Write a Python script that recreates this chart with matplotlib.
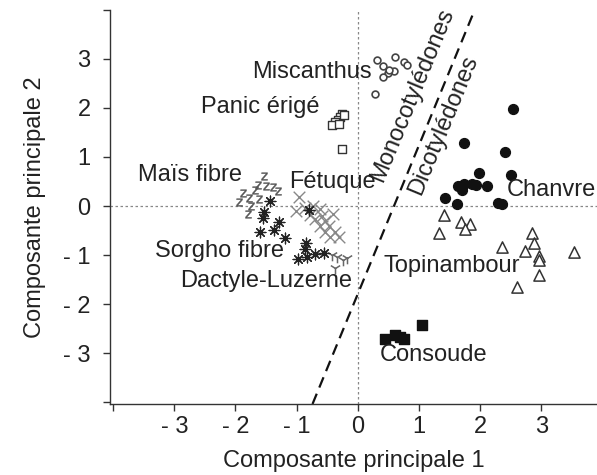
import matplotlib
matplotlib.use("Agg")
import matplotlib.pyplot as plt

plt.rcParams["font.family"] = ["Liberation Sans", "DejaVu Sans"]
plt.rcParams["font.size"] = 17

# ---- data (ACP scores) ----
miscanthus_x = [0.31, 0.60, 0.42, 0.75, 0.80, 0.59, 0.49, 0.42, 0.28, 0.51]
miscanthus_y = [2.98, 3.04, 2.86, 2.94, 2.88, 2.76, 2.71, 2.63, 2.29, 2.78]

panic_x = [-0.26, -0.29, -0.33, -0.38, -0.42, -0.31, -0.23, -0.26]
panic_y = [1.88, 1.82, 1.76, 1.71, 1.65, 1.67, 1.86, 1.16]

chanvre_x = [2.53, 1.73, 2.40, 1.98, 2.50, 1.63, 1.70, 1.73, 1.86, 1.93, 2.11, 1.42, 1.62, 2.29, 2.35]
chanvre_y = [1.98, 1.29, 1.10, 0.67, 0.63, 0.41, 0.33, 0.45, 0.45, 0.43, 0.41, 0.16, 0.04, 0.06, 0.04]

topi_x = [1.41, 1.68, 1.83, 1.75, 1.32, 2.84, 2.88, 2.35, 2.73, 2.96, 2.96, 3.53, 2.96, 2.61]
topi_y = [-0.18, -0.33, -0.37, -0.47, -0.55, -0.55, -0.76, -0.84, -0.92, -1.02, -1.10, -0.94, -1.41, -1.65]

consoude_x = [0.44, 0.60, 0.69, 0.75, 1.05]
consoude_y = [-2.71, -2.63, -2.67, -2.71, -2.43]

mais_x = [-1.54, -1.63, -1.50, -1.39, -1.31, -1.88, -1.68, -1.78, -1.62, -1.94, -1.75, -1.80]
mais_y = [0.61, 0.43, 0.41, 0.39, 0.31, 0.27, 0.33, 0.16, 0.14, 0.08, 0.00, -0.16]

sorgho_x = [-1.44, -1.54, -1.55, -1.29, -1.37, -1.60, -1.19, -0.85, -0.87, -0.98, -0.83, -0.70, -0.56, -0.80]
sorgho_y = [0.10, -0.12, -0.24, -0.33, -0.49, -0.53, -0.65, -0.76, -0.88, -1.08, -1.04, -0.98, -0.96, -0.08]

fetuque_x = [-0.96, -1.01, -0.87, -0.74, -0.62, -0.41, -0.78, -0.59, -0.70, -0.54, -0.62, -0.47, -0.54, -0.38, -0.46, -0.31]
fetuque_y = [0.18, -0.10, -0.04, 0.00, -0.06, -0.16, -0.18, -0.20, -0.27, -0.31, -0.41, -0.41, -0.53, -0.53, -0.63, -0.63]

dactyle_x = [-0.42, -0.34, -0.25, -0.18, -0.38]
dactyle_y = [-1.00, -1.04, -1.10, -1.06, -1.27]

# separation line mono/dicot
sep_x = [-0.74, 1.91]
sep_y = [-4.04, 4.0]

ticks = [-4, -3, -2, -1, 0, 1, 2, 3]
tick_labels = ["", "- 3", "- 2", "- 1", "0", "1", "2", "3"]
yticks = [-4, -3, -2, -1, 0, 1, 2, 3, 4]
ytick_labels = ["", "- 3", "- 2", "- 1", "0", "1", "2", "3", ""]

fig = plt.figure(figsize=(5.97, 4.75), dpi=100)
ax = fig.add_axes([0.1843, 0.1495, 0.8157, 0.8295])

dark = "#222222"

ax.axhline(0, color="#888888", ls=(0, (2, 2)), lw=0.9, zorder=1)
ax.axvline(0, color="#888888", ls=(0, (2, 2)), lw=0.9, zorder=1)
ax.plot(sep_x, sep_y, color="#111111", ls=(0, (5, 3)), lw=1.6, zorder=2)

ax.scatter(miscanthus_x, miscanthus_y, marker="o", s=24, facecolors="white", edgecolors="#444444", linewidths=1.2, zorder=3)
ax.scatter(panic_x, panic_y, marker="s", s=32, facecolors="white", edgecolors="#333333", linewidths=1.0, zorder=3)
ax.scatter(chanvre_x, chanvre_y, marker="o", s=50, color="#111111", zorder=3)
ax.scatter(topi_x, topi_y, marker="^", s=65, facecolors="white", edgecolors="#333333", linewidths=1.1, zorder=3)
ax.scatter(consoude_x, consoude_y, marker="s", s=42, color="#111111", zorder=3)
ax.scatter(mais_x, mais_y, marker=r"$\mathrm{z}$", s=30, color="#555555", linewidths=0.3, zorder=3)
ax.scatter(fetuque_x, fetuque_y, marker="x", s=70, color="#888888", linewidths=1.0, zorder=3)
ax.scatter(sorgho_x, sorgho_y, marker=(8, 2, 0), s=60, color="#222222", linewidths=0.9, zorder=4)
ax.scatter(dactyle_x, dactyle_y, marker="1", s=70, color="#666666", linewidths=1.1, zorder=3)

ax.text(0.23, 2.73, "Miscanthus", ha="right", va="center", color=dark)
ax.text(-0.62, 2.02, "Panic érigé", ha="right", va="center", color=dark)
ax.text(-1.90, 0.63, "Maïs fibre", ha="right", va="center", color=dark)
ax.text(-1.13, 0.49, "Fétuque", ha="left", va="center", color=dark)
ax.text(-1.21, -0.92, "Sorgho fibre", ha="right", va="center", color=dark)
ax.text(-2.91, -1.53, "Dactyle-Luzerne", ha="left", va="center", color=dark)
ax.text(2.43, 0.33, "Chanvre", ha="left", va="center", color=dark)
ax.text(0.42, -1.22, "Topinambour", ha="left", va="center", color=dark)
ax.text(0.36, -3.04, "Consoude", ha="left", va="center", color=dark)
ax.text(0.90, 2.27, "Monocotylédones", ha="center", va="center", rotation=67.5, color=dark)
ax.text(1.40, 1.65, "Dicotylédones", ha="center", va="center", rotation=67.5, color=dark)

ax.set_xlim(-4.05, 3.91)
ax.set_ylim(-4.04, 4.0)
ax.set_xticks(ticks)
ax.set_xticklabels(tick_labels)
ax.set_yticks(yticks)
ax.set_yticklabels(ytick_labels)
ax.tick_params(direction="out", length=5, width=1.0, colors="#333333", labelcolor=dark)
ax.tick_params(axis="y", pad=9)
ax.tick_params(axis="x", pad=4)

for side in ["top", "right"]:
    ax.spines[side].set_visible(False)
for side in ["left", "bottom"]:
    ax.spines[side].set_color("#333333")
    ax.spines[side].set_linewidth(1.0)

ax.set_xlabel("Composante principale 1", color=dark, labelpad=8)
ax.set_ylabel("Composante principale 2", color=dark, labelpad=12)

fig.savefig("out.png", dpi=100)
